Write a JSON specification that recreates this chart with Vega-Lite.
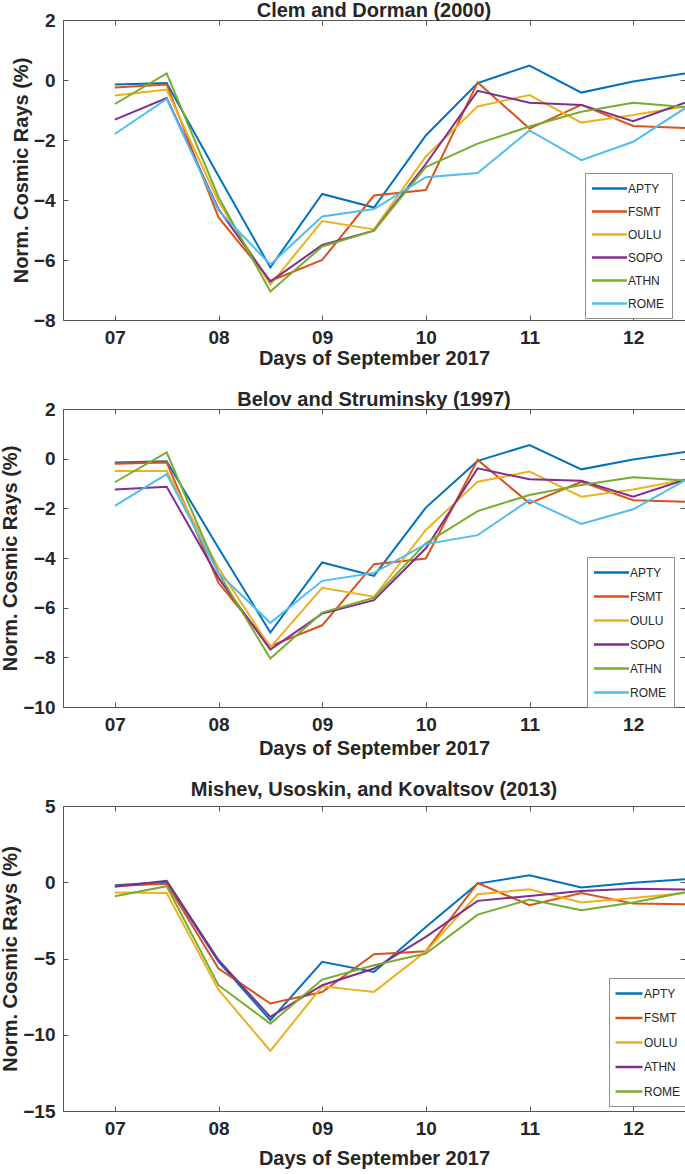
{
  "$schema": "https://vega.github.io/schema/vega-lite/v6.json",
  "padding": {"left": 0, "top": 0, "right": 0, "bottom": 0},
  "spacing": 20,
  "config": {
    "font": "Liberation Sans",
    "view": {"stroke": "#555555", "strokeWidth": 1},
    "axis": {"grid": false, "domain": false, "tickSize": -5, "tickColor": "#555555", "labelFont": "Liberation Sans", "labelFontSize": 19, "labelFontWeight": "bold", "labelColor": "#262626", "labelPadding": 13, "titleFont": "Liberation Sans", "titleFontSize": 20, "titleFontWeight": "bold", "titleColor": "#262626", "titlePadding": 2},
    "title": {"font": "Liberation Sans", "fontSize": 20, "fontWeight": "bold", "color": "#262626", "anchor": "middle", "frame": "group", "offset": -10}
  },
  "data": {"values": [
    {"panel":1,"station":"APTY","day":7,"value":-0.15},{"panel":1,"station":"APTY","day":7.5,"value":-0.1},{"panel":1,"station":"APTY","day":8,"value":-3.2},{"panel":1,"station":"APTY","day":8.5,"value":-6.25},{"panel":1,"station":"APTY","day":9,"value":-3.8},{"panel":1,"station":"APTY","day":9.5,"value":-4.25},{"panel":1,"station":"APTY","day":10,"value":-1.85},{"panel":1,"station":"APTY","day":10.5,"value":-0.1},{"panel":1,"station":"APTY","day":11,"value":0.48},{"panel":1,"station":"APTY","day":11.5,"value":-0.42},{"panel":1,"station":"APTY","day":12,"value":-0.05},{"panel":1,"station":"APTY","day":12.5,"value":0.22},
    {"panel":1,"station":"FSMT","day":7,"value":-0.25},{"panel":1,"station":"FSMT","day":7.5,"value":-0.15},{"panel":1,"station":"FSMT","day":8,"value":-4.58},{"panel":1,"station":"FSMT","day":8.5,"value":-6.7},{"panel":1,"station":"FSMT","day":9,"value":-6.0},{"panel":1,"station":"FSMT","day":9.5,"value":-3.85},{"panel":1,"station":"FSMT","day":10,"value":-3.67},{"panel":1,"station":"FSMT","day":10.5,"value":-0.08},{"panel":1,"station":"FSMT","day":11,"value":-1.62},{"panel":1,"station":"FSMT","day":11.5,"value":-0.83},{"panel":1,"station":"FSMT","day":12,"value":-1.53},{"panel":1,"station":"FSMT","day":12.5,"value":-1.6},
    {"panel":1,"station":"OULU","day":7,"value":-0.52},{"panel":1,"station":"OULU","day":7.5,"value":-0.32},{"panel":1,"station":"OULU","day":8,"value":-4.05},{"panel":1,"station":"OULU","day":8.5,"value":-6.83},{"panel":1,"station":"OULU","day":9,"value":-4.7},{"panel":1,"station":"OULU","day":9.5,"value":-4.98},{"panel":1,"station":"OULU","day":10,"value":-2.55},{"panel":1,"station":"OULU","day":10.5,"value":-0.88},{"panel":1,"station":"OULU","day":11,"value":-0.5},{"panel":1,"station":"OULU","day":11.5,"value":-1.42},{"panel":1,"station":"OULU","day":12,"value":-1.17},{"panel":1,"station":"OULU","day":12.5,"value":-0.88},
    {"panel":1,"station":"SOPO","day":7,"value":-1.32},{"panel":1,"station":"SOPO","day":7.5,"value":-0.6},{"panel":1,"station":"SOPO","day":8,"value":-4.3},{"panel":1,"station":"SOPO","day":8.5,"value":-6.72},{"panel":1,"station":"SOPO","day":9,"value":-5.5},{"panel":1,"station":"SOPO","day":9.5,"value":-5.02},{"panel":1,"station":"SOPO","day":10,"value":-2.8},{"panel":1,"station":"SOPO","day":10.5,"value":-0.36},{"panel":1,"station":"SOPO","day":11,"value":-0.76},{"panel":1,"station":"SOPO","day":11.5,"value":-0.83},{"panel":1,"station":"SOPO","day":12,"value":-1.37},{"panel":1,"station":"SOPO","day":12.5,"value":-0.76},
    {"panel":1,"station":"ATHN","day":7,"value":-0.8},{"panel":1,"station":"ATHN","day":7.5,"value":0.22},{"panel":1,"station":"ATHN","day":8,"value":-3.9},{"panel":1,"station":"ATHN","day":8.5,"value":-7.05},{"panel":1,"station":"ATHN","day":9,"value":-5.55},{"panel":1,"station":"ATHN","day":9.5,"value":-5.02},{"panel":1,"station":"ATHN","day":10,"value":-2.9},{"panel":1,"station":"ATHN","day":10.5,"value":-2.12},{"panel":1,"station":"ATHN","day":11,"value":-1.55},{"panel":1,"station":"ATHN","day":11.5,"value":-1.06},{"panel":1,"station":"ATHN","day":12,"value":-0.76},{"panel":1,"station":"ATHN","day":12.5,"value":-0.9},
    {"panel":1,"station":"ROME","day":7,"value":-1.8},{"panel":1,"station":"ROME","day":7.5,"value":-0.63},{"panel":1,"station":"ROME","day":8,"value":-4.35},{"panel":1,"station":"ROME","day":8.5,"value":-6.15},{"panel":1,"station":"ROME","day":9,"value":-4.55},{"panel":1,"station":"ROME","day":9.5,"value":-4.3},{"panel":1,"station":"ROME","day":10,"value":-3.24},{"panel":1,"station":"ROME","day":10.5,"value":-3.1},{"panel":1,"station":"ROME","day":11,"value":-1.68},{"panel":1,"station":"ROME","day":11.5,"value":-2.67},{"panel":1,"station":"ROME","day":12,"value":-2.06},{"panel":1,"station":"ROME","day":12.5,"value":-0.94},
    {"panel":2,"station":"APTY","day":7,"value":-0.15},{"panel":2,"station":"APTY","day":7.5,"value":-0.1},{"panel":2,"station":"APTY","day":8,"value":-3.6},{"panel":2,"station":"APTY","day":8.5,"value":-7.0},{"panel":2,"station":"APTY","day":9,"value":-4.18},{"panel":2,"station":"APTY","day":9.5,"value":-4.72},{"panel":2,"station":"APTY","day":10,"value":-1.97},{"panel":2,"station":"APTY","day":10.5,"value":-0.09},{"panel":2,"station":"APTY","day":11,"value":0.55},{"panel":2,"station":"APTY","day":11.5,"value":-0.43},{"panel":2,"station":"APTY","day":12,"value":-0.03},{"panel":2,"station":"APTY","day":12.5,"value":0.27},
    {"panel":2,"station":"FSMT","day":7,"value":-0.2},{"panel":2,"station":"FSMT","day":7.5,"value":-0.15},{"panel":2,"station":"FSMT","day":8,"value":-5.0},{"panel":2,"station":"FSMT","day":8.5,"value":-7.55},{"panel":2,"station":"FSMT","day":9,"value":-6.71},{"panel":2,"station":"FSMT","day":9.5,"value":-4.25},{"panel":2,"station":"FSMT","day":10,"value":-4.02},{"panel":2,"station":"FSMT","day":10.5,"value":-0.05},{"panel":2,"station":"FSMT","day":11,"value":-1.8},{"panel":2,"station":"FSMT","day":11.5,"value":-0.93},{"panel":2,"station":"FSMT","day":12,"value":-1.67},{"panel":2,"station":"FSMT","day":12.5,"value":-1.73},
    {"panel":2,"station":"OULU","day":7,"value":-0.5},{"panel":2,"station":"OULU","day":7.5,"value":-0.5},{"panel":2,"station":"OULU","day":8,"value":-4.4},{"panel":2,"station":"OULU","day":8.5,"value":-7.6},{"panel":2,"station":"OULU","day":9,"value":-5.2},{"panel":2,"station":"OULU","day":9.5,"value":-5.56},{"panel":2,"station":"OULU","day":10,"value":-2.87},{"panel":2,"station":"OULU","day":10.5,"value":-0.93},{"panel":2,"station":"OULU","day":11,"value":-0.52},{"panel":2,"station":"OULU","day":11.5,"value":-1.53},{"panel":2,"station":"OULU","day":12,"value":-1.24},{"panel":2,"station":"OULU","day":12.5,"value":-0.85},
    {"panel":2,"station":"SOPO","day":7,"value":-1.24},{"panel":2,"station":"SOPO","day":7.5,"value":-1.13},{"panel":2,"station":"SOPO","day":8,"value":-4.8},{"panel":2,"station":"SOPO","day":8.5,"value":-7.69},{"panel":2,"station":"SOPO","day":9,"value":-6.24},{"panel":2,"station":"SOPO","day":9.5,"value":-5.7},{"panel":2,"station":"SOPO","day":10,"value":-3.61},{"panel":2,"station":"SOPO","day":10.5,"value":-0.39},{"panel":2,"station":"SOPO","day":11,"value":-0.83},{"panel":2,"station":"SOPO","day":11.5,"value":-0.89},{"panel":2,"station":"SOPO","day":12,"value":-1.53},{"panel":2,"station":"SOPO","day":12.5,"value":-0.85},
    {"panel":2,"station":"ATHN","day":7,"value":-0.95},{"panel":2,"station":"ATHN","day":7.5,"value":0.25},{"panel":2,"station":"ATHN","day":8,"value":-4.6},{"panel":2,"station":"ATHN","day":8.5,"value":-8.05},{"panel":2,"station":"ATHN","day":9,"value":-6.2},{"panel":2,"station":"ATHN","day":9.5,"value":-5.6},{"panel":2,"station":"ATHN","day":10,"value":-3.41},{"panel":2,"station":"ATHN","day":10.5,"value":-2.11},{"panel":2,"station":"ATHN","day":11,"value":-1.46},{"panel":2,"station":"ATHN","day":11.5,"value":-1.06},{"panel":2,"station":"ATHN","day":12,"value":-0.75},{"panel":2,"station":"ATHN","day":12.5,"value":-0.88},
    {"panel":2,"station":"ROME","day":7,"value":-1.9},{"panel":2,"station":"ROME","day":7.5,"value":-0.62},{"panel":2,"station":"ROME","day":8,"value":-4.6},{"panel":2,"station":"ROME","day":8.5,"value":-6.61},{"panel":2,"station":"ROME","day":9,"value":-4.92},{"panel":2,"station":"ROME","day":9.5,"value":-4.6},{"panel":2,"station":"ROME","day":10,"value":-3.44},{"panel":2,"station":"ROME","day":10.5,"value":-3.08},{"panel":2,"station":"ROME","day":11,"value":-1.66},{"panel":2,"station":"ROME","day":11.5,"value":-2.63},{"panel":2,"station":"ROME","day":12,"value":-2.04},{"panel":2,"station":"ROME","day":12.5,"value":-0.87},
    {"panel":3,"station":"APTY","day":7,"value":-0.2},{"panel":3,"station":"APTY","day":7.5,"value":0.02},{"panel":3,"station":"APTY","day":8,"value":-5.2},{"panel":3,"station":"APTY","day":8.5,"value":-9.05},{"panel":3,"station":"APTY","day":9,"value":-5.22},{"panel":3,"station":"APTY","day":9.5,"value":-5.88},{"panel":3,"station":"APTY","day":10,"value":-2.93},{"panel":3,"station":"APTY","day":10.5,"value":-0.09},{"panel":3,"station":"APTY","day":11,"value":0.46},{"panel":3,"station":"APTY","day":11.5,"value":-0.35},{"panel":3,"station":"APTY","day":12,"value":-0.04},{"panel":3,"station":"APTY","day":12.5,"value":0.2},
    {"panel":3,"station":"FSMT","day":7,"value":-0.25},{"panel":3,"station":"FSMT","day":7.5,"value":-0.1},{"panel":3,"station":"FSMT","day":8,"value":-5.66},{"panel":3,"station":"FSMT","day":8.5,"value":-7.95},{"panel":3,"station":"FSMT","day":9,"value":-7.2},{"panel":3,"station":"FSMT","day":9.5,"value":-4.72},{"panel":3,"station":"FSMT","day":10,"value":-4.52},{"panel":3,"station":"FSMT","day":10.5,"value":-0.05},{"panel":3,"station":"FSMT","day":11,"value":-1.5},{"panel":3,"station":"FSMT","day":11.5,"value":-0.7},{"panel":3,"station":"FSMT","day":12,"value":-1.4},{"panel":3,"station":"FSMT","day":12.5,"value":-1.44},
    {"panel":3,"station":"OULU","day":7,"value":-0.68},{"panel":3,"station":"OULU","day":7.5,"value":-0.7},{"panel":3,"station":"OULU","day":8,"value":-7.04},{"panel":3,"station":"OULU","day":8.5,"value":-11.06},{"panel":3,"station":"OULU","day":9,"value":-6.82},{"panel":3,"station":"OULU","day":9.5,"value":-7.19},{"panel":3,"station":"OULU","day":10,"value":-4.55},{"panel":3,"station":"OULU","day":10.5,"value":-0.79},{"panel":3,"station":"OULU","day":11,"value":-0.46},{"panel":3,"station":"OULU","day":11.5,"value":-1.33},{"panel":3,"station":"OULU","day":12,"value":-1.03},{"panel":3,"station":"OULU","day":12.5,"value":-0.7},
    {"panel":3,"station":"ATHN","day":7,"value":-0.3},{"panel":3,"station":"ATHN","day":7.5,"value":0.09},{"panel":3,"station":"ATHN","day":8,"value":-5.1},{"panel":3,"station":"ATHN","day":8.5,"value":-8.83},{"panel":3,"station":"ATHN","day":9,"value":-6.75},{"panel":3,"station":"ATHN","day":9.5,"value":-5.66},{"panel":3,"station":"ATHN","day":10,"value":-3.58},{"panel":3,"station":"ATHN","day":10.5,"value":-1.22},{"panel":3,"station":"ATHN","day":11,"value":-0.9},{"panel":3,"station":"ATHN","day":11.5,"value":-0.57},{"panel":3,"station":"ATHN","day":12,"value":-0.42},{"panel":3,"station":"ATHN","day":12.5,"value":-0.48},
    {"panel":3,"station":"ROME","day":7,"value":-0.92},{"panel":3,"station":"ROME","day":7.5,"value":-0.26},{"panel":3,"station":"ROME","day":8,"value":-6.75},{"panel":3,"station":"ROME","day":8.5,"value":-9.27},{"panel":3,"station":"ROME","day":9,"value":-6.38},{"panel":3,"station":"ROME","day":9.5,"value":-5.44},{"panel":3,"station":"ROME","day":10,"value":-4.67},{"panel":3,"station":"ROME","day":10.5,"value":-2.12},{"panel":3,"station":"ROME","day":11,"value":-1.14},{"panel":3,"station":"ROME","day":11.5,"value":-1.84},{"panel":3,"station":"ROME","day":12,"value":-1.33},{"panel":3,"station":"ROME","day":12.5,"value":-0.65}
  ]},
  "vconcat": [
    {
      "width": 622, "height": 300,
      "title": "Clem and Dorman (2000)",
      "transform": [{"filter": "datum.panel == 1"}],
      "layer": [
        {"mark": {"type": "line", "strokeWidth": 2},
         "encoding": {
           "x": {"field": "day", "type": "quantitative", "scale": {"domain": [6.5, 12.5], "nice": false, "zero": false}, "axis": {"values": [7,8,9,10,11,12], "labelExpr": "datum.value < 10 ? '0' + datum.value : '' + datum.value", "title": "Days of September 2017", "titlePadding": 1}},
           "y": {"field": "value", "type": "quantitative", "scale": {"domain": [-8, 2], "nice": false, "zero": false}, "axis": {"values": [-8,-6,-4,-2,0,2], "title": "Norm. Cosmic Rays (%)"}},
           "color": {"field": "station", "type": "nominal", "sort": null, "scale": {"domain": ["APTY","FSMT","OULU","SOPO","ATHN","ROME"], "range": ["#0072BD","#D95319","#EDB120","#7E2F8E","#77AC30","#4DBEEE"]},
             "legend": {"title": null, "orient": "none", "legendX": 522, "legendY": 153, "symbolType": "M-1.42,0L4.42,0", "symbolSize": 144, "symbolStrokeWidth": 2.5, "labelFont": "Liberation Sans", "labelFontSize": 12, "labelColor": "#262626", "labelOffset": 20, "rowPadding": 9, "padding": 8, "strokeColor": "#8c8c8c", "fillColor": "white"}}
         }},
        {"mark": {"type": "point", "opacity": 0},
         "encoding": {
           "x": {"field": "day", "type": "quantitative", "axis": {"orient": "top", "values": [7,8,9,10,11,12], "labels": false, "title": null}},
           "y": {"field": "value", "type": "quantitative", "axis": {"orient": "right", "values": [-8,-6,-4,-2,0,2], "labels": false, "title": null}}
         }}
      ],
      "resolve": {"axis": {"x": "independent", "y": "independent"}}
    },
    {
      "width": 622, "height": 298,
      "title": "Belov and Struminsky (1997)",
      "transform": [{"filter": "datum.panel == 2"}],
      "layer": [
        {"mark": {"type": "line", "strokeWidth": 2},
         "encoding": {
           "x": {"field": "day", "type": "quantitative", "scale": {"domain": [6.5, 12.5], "nice": false, "zero": false}, "axis": {"values": [7,8,9,10,11,12], "labelExpr": "datum.value < 10 ? '0' + datum.value : '' + datum.value", "title": "Days of September 2017", "titlePadding": 4}},
           "y": {"field": "value", "type": "quantitative", "scale": {"domain": [-10, 2], "nice": false, "zero": false}, "axis": {"values": [-10,-8,-6,-4,-2,0,2], "title": "Norm. Cosmic Rays (%)"}},
           "color": {"field": "station", "type": "nominal", "sort": null, "scale": {"domain": ["APTY","FSMT","OULU","SOPO","ATHN","ROME"], "range": ["#0072BD","#D95319","#EDB120","#7E2F8E","#77AC30","#4DBEEE"]},
             "legend": {"title": null, "orient": "none", "legendX": 524, "legendY": 148, "symbolType": "M-1.42,0L4.42,0", "symbolSize": 144, "symbolStrokeWidth": 2.5, "labelFont": "Liberation Sans", "labelFontSize": 12, "labelColor": "#262626", "labelOffset": 20, "rowPadding": 10, "padding": 8, "strokeColor": "#8c8c8c", "fillColor": "white"}}
         }},
        {"mark": {"type": "point", "opacity": 0},
         "encoding": {
           "x": {"field": "day", "type": "quantitative", "axis": {"orient": "top", "values": [7,8,9,10,11,12], "labels": false, "title": null}},
           "y": {"field": "value", "type": "quantitative", "axis": {"orient": "right", "values": [-10,-8,-6,-4,-2,0,2], "labels": false, "title": null}}
         }}
      ],
      "resolve": {"axis": {"x": "independent", "y": "independent"}}
    },
    {
      "width": 622, "height": 305,
      "title": {"text": "Mishev, Usoskin, and Kovaltsov (2013)", "offset": -3},
      "transform": [{"filter": "datum.panel == 3"}],
      "layer": [
        {"mark": {"type": "line", "strokeWidth": 2},
         "encoding": {
           "x": {"field": "day", "type": "quantitative", "scale": {"domain": [6.5, 12.5], "nice": false, "zero": false}, "axis": {"values": [7,8,9,10,11,12], "labelExpr": "datum.value < 10 ? '0' + datum.value : '' + datum.value", "title": "Days of September 2017", "titlePadding": 10}},
           "y": {"field": "value", "type": "quantitative", "scale": {"domain": [-15, 5], "nice": false, "zero": false}, "axis": {"values": [-15,-10,-5,0,5], "title": "Norm. Cosmic Rays (%)"}},
           "color": {"field": "station", "type": "nominal", "sort": null, "scale": {"domain": ["APTY","FSMT","OULU","ATHN","ROME"], "range": ["#0072BD","#D95319","#EDB120","#7E2F8E","#77AC30"]},
             "legend": {"title": null, "orient": "none", "legendX": 546, "legendY": 172, "symbolType": "M-1.5,0L3,0", "symbolSize": 144, "symbolStrokeWidth": 2.5, "labelFont": "Liberation Sans", "labelFontSize": 12, "labelColor": "#262626", "labelOffset": 12, "rowPadding": 10.5, "padding": 8, "strokeColor": "#8c8c8c", "fillColor": "white"}}
         }},
        {"mark": {"type": "point", "opacity": 0},
         "encoding": {
           "x": {"field": "day", "type": "quantitative", "axis": {"orient": "top", "values": [7,8,9,10,11,12], "labels": false, "title": null}},
           "y": {"field": "value", "type": "quantitative", "axis": {"orient": "right", "values": [-15,-10,-5,0,5], "labels": false, "title": null}}
         }}
      ],
      "resolve": {"axis": {"x": "independent", "y": "independent"}}
    }
  ],
  "resolve": {"scale": {"color": "independent"}}
}
